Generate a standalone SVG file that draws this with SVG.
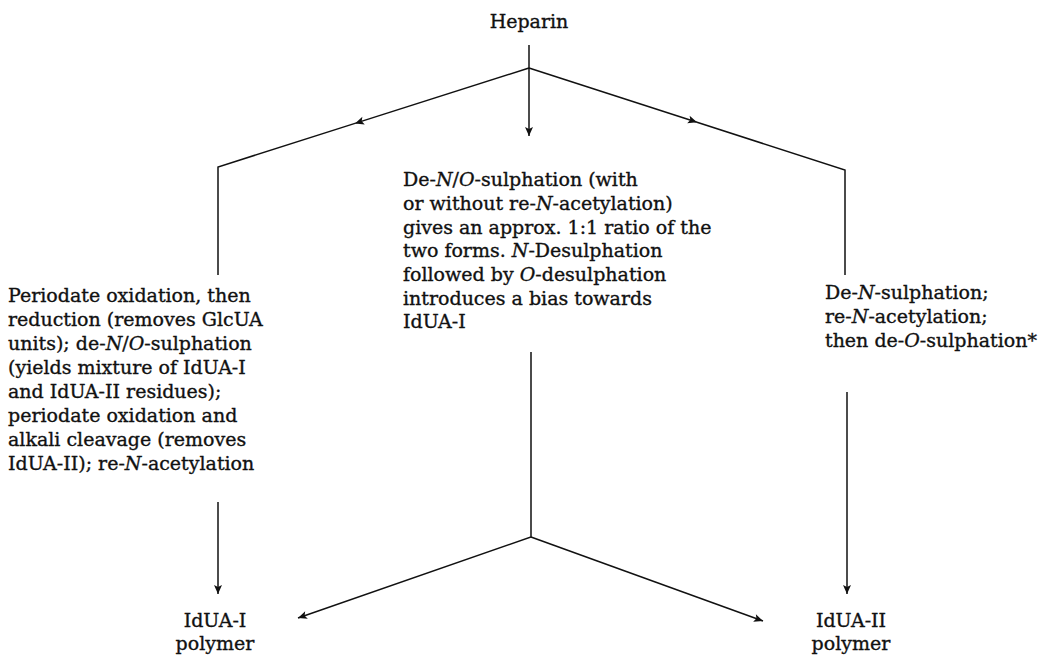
<svg xmlns="http://www.w3.org/2000/svg" width="1050" height="656" viewBox="0 0 1050 656">
<style>
text{font-family:"DejaVu Serif","Liberation Serif",serif;font-size:19px;fill:#111;stroke:#111;stroke-width:0.35}
.i{font-style:italic}
.c{text-anchor:middle}
.ln{fill:none;stroke:#111;stroke-width:1.5}
</style>
<defs>
<marker id="ah" viewBox="-10 -5 12 10" markerWidth="12" markerHeight="10" refX="0" refY="0" orient="auto" markerUnits="userSpaceOnUse">
<path d="M0,0 L-9,-4 L-7,0 L-9,4 Z" fill="#111"/>
</marker>
</defs>
<rect width="1050" height="656" fill="#fff"/>
<g id="connectors">
<path class="ln" d="M529,45 L529,136" marker-end="url(#ah)"/>
<path class="ln" d="M529,68 L355,123.4" marker-end="url(#ah)"/>
<path class="ln" d="M355,123.4 L218,167 L218,275"/>
<path class="ln" d="M529,68 L697,122.2" marker-end="url(#ah)"/>
<path class="ln" d="M697,122.2 L845,170 L845,275"/>
<path class="ln" d="M218,502 L218,594" marker-end="url(#ah)"/>
<path class="ln" d="M847,392 L847,594" marker-end="url(#ah)"/>
<path class="ln" d="M531,352 L531,537 L298,618" marker-end="url(#ah)"/>
<path class="ln" d="M531,537 L763,621" marker-end="url(#ah)"/>
</g>
<g id="heparin"><text class="c" x="529" y="28">Heparin</text></g>
<g id="left-route">
<text x="8" y="302">Periodate oxidation, then</text>
<text x="8" y="326">reduction (removes GlcUA</text>
<text x="8" y="350">units); de-<tspan class="i">N</tspan>/<tspan class="i">O</tspan>-sulphation</text>
<text x="8" y="374">(yields mixture of IdUA-I</text>
<text x="8" y="398">and IdUA-II residues);</text>
<text x="8" y="422">periodate oxidation and</text>
<text x="8" y="446">alkali cleavage (removes</text>
<text x="8" y="470">IdUA-II); re-<tspan class="i">N</tspan>-acetylation</text>
</g>
<g id="centre-route">
<text x="403" y="186">De-<tspan class="i">N</tspan>/<tspan class="i">O</tspan>-sulphation (with</text>
<text x="403" y="210">or without re-<tspan class="i">N</tspan>-acetylation)</text>
<text x="403" y="234">gives an approx. 1:1 ratio of the</text>
<text x="403" y="257">two forms. <tspan class="i">N</tspan>-Desulphation</text>
<text x="403" y="281">followed by <tspan class="i">O</tspan>-desulphation</text>
<text x="403" y="305">introduces a bias towards</text>
<text x="403" y="328">IdUA-I</text>
</g>
<g id="right-route">
<text x="825" y="299">De-<tspan class="i">N</tspan>-sulphation;</text>
<text x="825" y="323">re-<tspan class="i">N</tspan>-acetylation;</text>
<text x="825" y="347">then de-<tspan class="i">O</tspan>-sulphation*</text>
</g>
<g id="idua-i"><text class="c" x="215" y="627">IdUA-I</text><text class="c" x="215" y="650">polymer</text></g>
<g id="idua-ii"><text class="c" x="851" y="627">IdUA-II</text><text class="c" x="851" y="650">polymer</text></g>
</svg>
